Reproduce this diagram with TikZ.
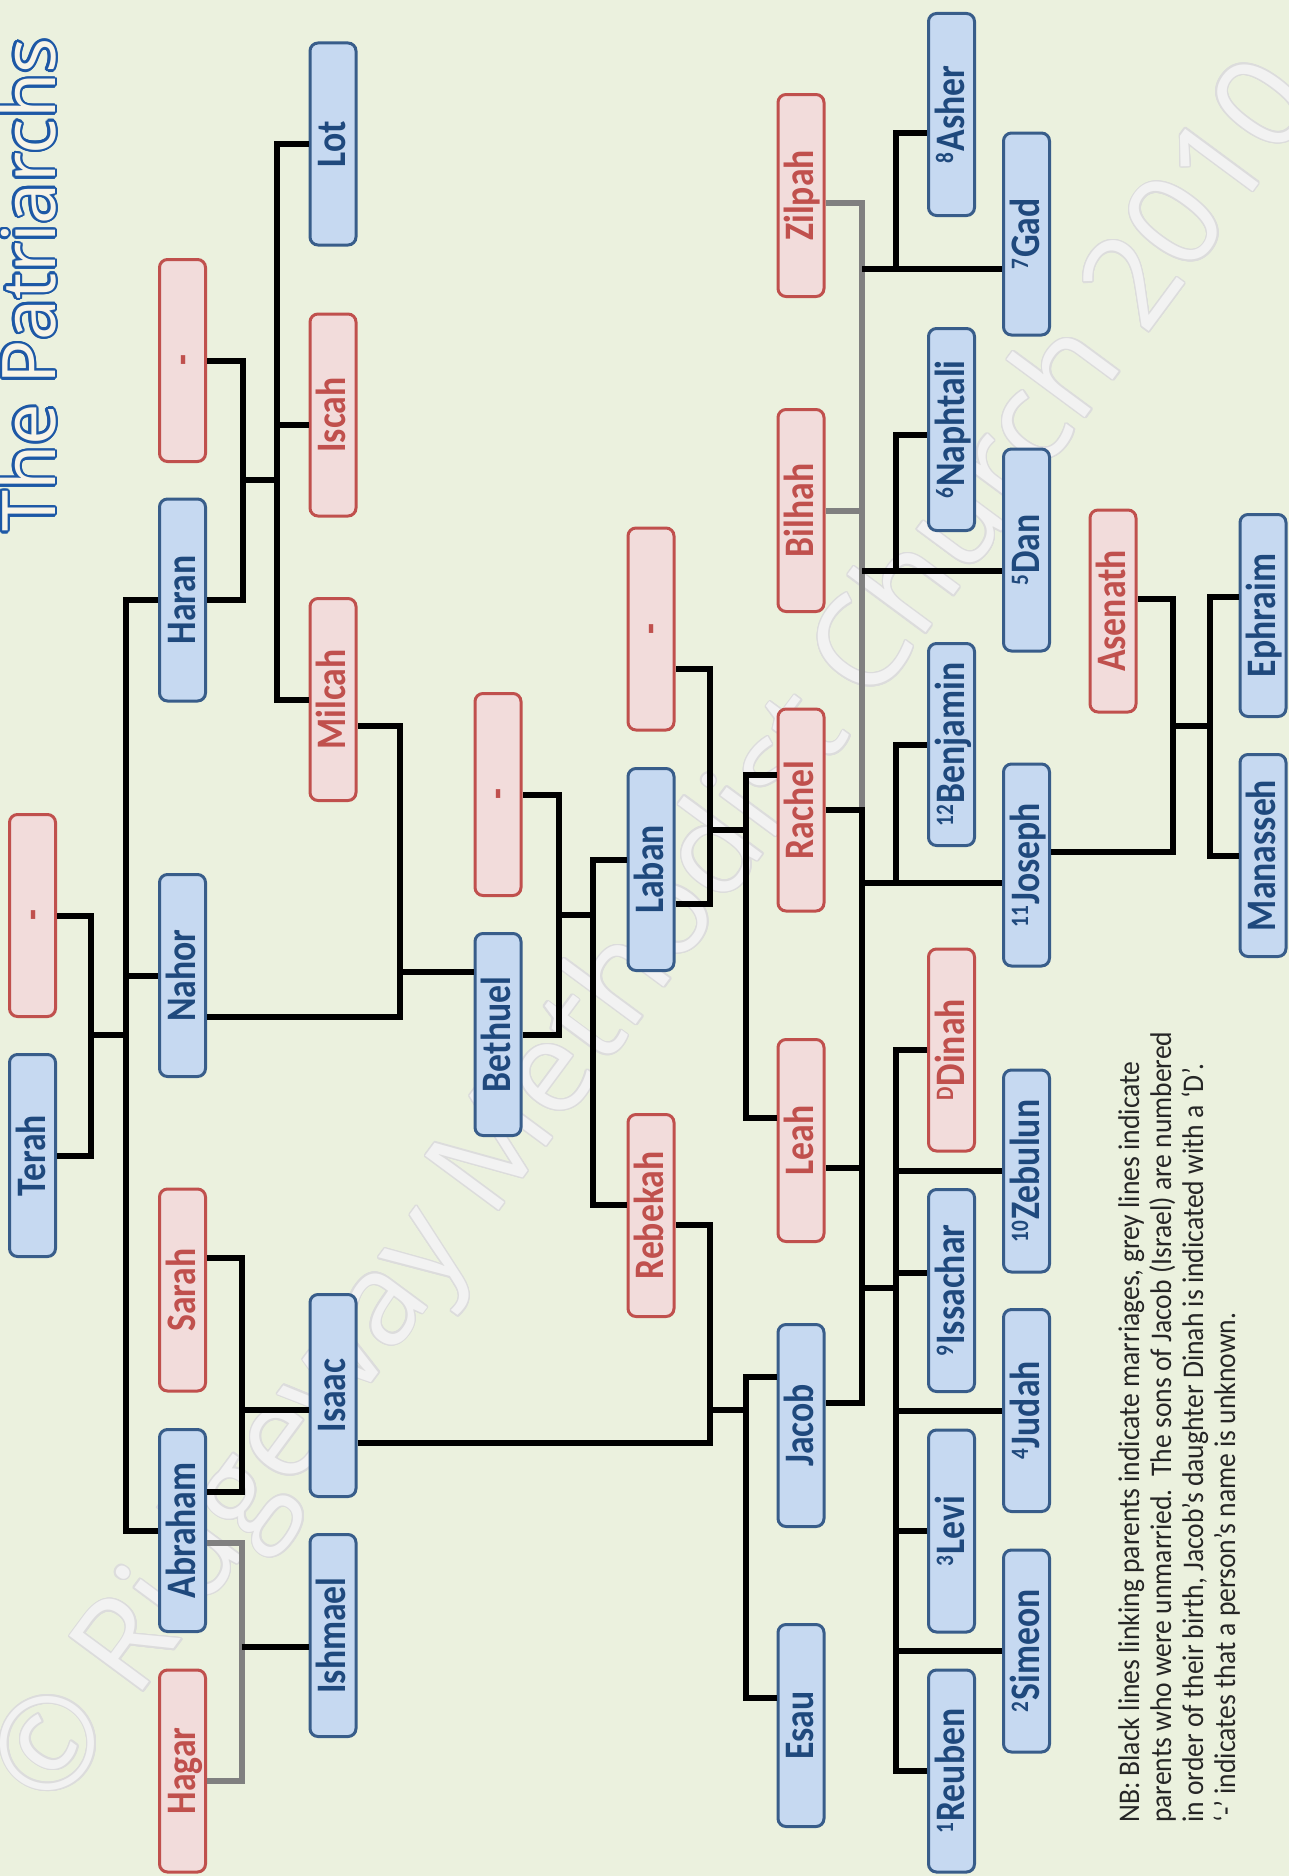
\documentclass[tikz,border=0pt]{standalone}
\usepackage{fontspec}
\setmainfont{Carlito}
\newfontfamily\namefont[FakeStretch=0.85]{Carlito}
\newfontfamily\notefont[FakeStretch=0.92]{Carlito}
\newfontfamily\headfont{Open Sans}
\usepackage{xcolor}
\usepackage{graphicx}
\usepackage{contour}
\usepackage{tikz}
\definecolor{paper}{HTML}{EBF1DE}
\definecolor{navy}{HTML}{1F497D}
\definecolor{blueedge}{HTML}{385D8A}
\definecolor{bluepale}{HTML}{C6D9F1}
\definecolor{brick}{HTML}{C0504D}
\definecolor{rosepale}{HTML}{F2DCDB}
\definecolor{grey}{HTML}{808080}
\definecolor{headblue}{HTML}{1D58A6}
\definecolor{headfill}{HTML}{F7F4E8}
\definecolor{markfill}{HTML}{F2F2F2}
\definecolor{markedge}{HTML}{DCDCDC}
\newcommand{\who}[1]{\rotatebox{90}{\rule[-10pt]{0pt}{45pt}#1}}
\newcommand{\birth}[1]{\raisebox{11pt}{\fontsize{25}{25}\selectfont#1}\kern1pt}
\tikzset{
  person/.style={rounded corners=8pt,line width=3pt,minimum width=46pt,minimum height=202pt,inner sep=0pt,font=\namefont\bfseries\fontsize{42}{42}\selectfont},
  male/.style={person,draw=blueedge,fill=bluepale,text=navy},
  female/.style={person,draw=brick,fill=rosepale,text=brick},
  wed/.style={line width=6pt,black},
  unwed/.style={line width=6pt,grey}
}

\begin{document}
\begin{tikzpicture}[x=1pt,y=-1pt]
  \fill[paper] (0,0) rectangle (1289,1876);
  \useasboundingbox (0,0) rectangle (1289,1876);
  \node[rotate=53.5,text=markfill,font=\headfont\fontsize{128}{128}\selectfont] (mark) at (660,938)
    {\contourlength{1.4pt}\contour{markedge}{© Ridgeway Methodist Church 2010}};
  \node[rotate=90,anchor=base west,inner sep=0pt,text=headfill,font=\headfont\fontsize{74}{74}\selectfont] (title) at (55,532)
    {\contourlength{2.6pt}\contour{headblue}{The Patriarchs}};

  \node[male]   (terah)    at (32.5,1155.5) {\who{Terah}};
  \node[female] (terahw)   at (32.5,915.5)  {\who{-}};
  \node[female] (haranw)   at (182.5,360.5) {\who{-}};
  \node[male]   (haran)    at (182.5,600)   {\who{Haran}};
  \node[male]   (nahor)    at (182.5,975.5) {\who{Nahor}};
  \node[female] (sarah)    at (182.5,1290)  {\who{Sarah}};
  \node[male]   (abraham)  at (182.5,1530.5){\who{Abraham}};
  \node[female] (hagar)    at (182.5,1771)  {\who{Hagar}};
  \node[male]   (lot)      at (333,144)     {\who{Lot}};
  \node[female] (iscah)    at (333,415)     {\who{Iscah}};
  \node[female] (milcah)   at (333,699.5)   {\who{Milcah}};
  \node[male]   (isaac)    at (333,1395.5)  {\who{Isaac}};
  \node[male]   (ishmael)  at (333,1635.5)  {\who{Ishmael}};
  \node[female] (bethw)    at (498,794.5)   {\who{-}};
  \node[male]   (bethuel)  at (498,1034.5)  {\who{Bethuel}};
  \node[female] (labanw)   at (651,629)     {\who{-}};
  \node[male]   (laban)    at (651,869.5)   {\who{Laban}};
  \node[female] (rebekah)  at (651,1215.5)  {\who{Rebekah}};
  \node[female] (zilpah)   at (801,195.5)   {\who{Zilpah}};
  \node[female] (bilhah)   at (801,510.5)   {\who{Bilhah}};
  \node[female] (rachel)   at (801,810)     {\who{Rachel}};
  \node[female] (leah)     at (801,1140.5)  {\who{Leah}};
  \node[male]   (jacob)    at (801,1425.5)  {\who{Jacob}};
  \node[male]   (esau)     at (801,1725.5)  {\who{Esau}};
  \node[male]   (asher)    at (951.5,114.5) {\who{\birth{8}Asher}};
  \node[male]   (naphtali) at (951.5,429.5) {\who{\birth{6}Naphtali}};
  \node[male]   (benjamin) at (951.5,744.5) {\who{\birth{12}Benjamin}};
  \node[female] (dinah)    at (951.5,1050)  {\who{\birth{D}Dinah}};
  \node[male]   (issachar) at (951.5,1290.5){\who{\birth{9}Issachar}};
  \node[male]   (levi)     at (951.5,1531)  {\who{\birth{3}Levi}};
  \node[male]   (reuben)   at (951.5,1771)  {\who{\birth{1}Reuben}};
  \node[male]   (gad)      at (1026.5,234)  {\who{\birth{7}Gad}};
  \node[male]   (dan)      at (1026.5,550)  {\who{\birth{5}Dan}};
  \node[male]   (joseph)   at (1026.5,865)  {\who{\birth{11}Joseph}};
  \node[male]   (zebulun)  at (1026.5,1171) {\who{\birth{10}Zebulun}};
  \node[male]   (judah)    at (1026.5,1410.5){\who{\birth{4}Judah}};
  \node[male]   (simeon)   at (1026.5,1651) {\who{\birth{2}Simeon}};
  \node[female] (asenath)  at (1113,611)    {\who{Asenath}};
  \node[male]   (ephraim)  at (1263,615.5)  {\who{Ephraim}};
  \node[male]   (manasseh) at (1263,855.5)  {\who{Manasseh}};

  \node[rotate=90,anchor=north west,inner sep=0pt,align=left,text=black!85,font=\notefont\fontsize{30}{32}\selectfont] (note) at (1118,1823)
    {NB: Black lines linking parents indicate marriages, grey lines indicate\\
     parents who were unmarried.\ \ The sons of Jacob (Israel) are numbered\\
     in order of their birth, Jacob’s daughter Dinah is indicated with a ‘D’.\\
     ‘-’ indicates that a person’s name is unknown.};

  \coordinate (jTerah) at (91,1035);
  \coordinate (kTerah) at (125.5,1035);
  \draw[wed] (terah.east) -| (jTerah) |- (terahw.east);
  \draw[wed] (jTerah) -- (kTerah);
  \foreach \kid in {haran,nahor,abraham} \draw[wed] (\kid.west) -| (kTerah);

  \coordinate (jHaran) at (242.5,480);
  \coordinate (kHaran) at (276.5,480);
  \draw[wed] (haran.east) -| (jHaran) |- (haranw.east);
  \draw[wed] (jHaran) -- (kHaran);
  \draw[wed] (lot.west) -| (kHaran);
  \draw[wed] ([yshift=-10pt]iscah.west) -| (kHaran);
  \draw[wed] (milcah.west) -| (kHaran);

  \coordinate (jNahor) at (400,972);
  \draw[wed] ([yshift=-41.5pt]nahor.east) -| (jNahor) |- ([yshift=-26.5pt]milcah.east);
  \draw[wed] (jNahor) -- (bethuel.west |- jNahor);

  \coordinate (jBethuel) at (559,915);
  \coordinate (kBethuel) at (593,915);
  \draw[wed] (bethuel.east) -| (jBethuel) |- (bethw.east);
  \draw[wed] (jBethuel) -- (kBethuel);
  \draw[wed] ([yshift=9.5pt]laban.west) -| (kBethuel);
  \draw[wed] ([yshift=10.5pt]rebekah.west) -| (kBethuel);

  \coordinate (jLaban) at (710,830);
  \coordinate (kLaban) at (745.5,830);
  \draw[wed] ([yshift=-34.5pt]laban.east) -| (jLaban) |- ([yshift=-40pt]labanw.east);
  \draw[wed] (jLaban) -- (kLaban);
  \draw[wed] ([yshift=35pt]rachel.west) -| (kLaban);
  \draw[wed] ([yshift=22.5pt]leah.west) -| (kLaban);

  \coordinate (jSarah) at (241.5,1410);
  \draw[wed] ([yshift=38.5pt]abraham.east) -| (jSarah) |- ([yshift=32pt]sarah.east);
  \draw[wed] (jSarah) -- (isaac.west |- jSarah);

  \coordinate (jHagar) at (241.5,1647);
  \draw[unwed] ([yshift=-12.5pt]abraham.east) -| (jHagar) |- ([yshift=-10pt]hagar.east);
  \draw[wed] (jHagar) -- (ishmael.west |- jHagar);

  \coordinate (jIsaac) at (710,1410);
  \coordinate (kIsaac) at (745.5,1410);
  \draw[wed] ([yshift=-47.5pt]isaac.east) -| (jIsaac) |- ([yshift=-9.5pt]rebekah.east);
  \draw[wed] (jIsaac) -- (kIsaac);
  \draw[wed] ([yshift=48.5pt]jacob.west) -| (kIsaac);
  \draw[wed] ([yshift=27.5pt]esau.west) -| (kIsaac);

  \coordinate (jZilpah) at (862,269);
  \coordinate (kZilpah) at (896,269);
  \coordinate (jBilhah) at (862,571);
  \coordinate (kBilhah) at (896,571);
  \coordinate (jRachel) at (862,883);
  \coordinate (kRachel) at (896,883);
  \coordinate (jLeah) at (862,1288);
  \coordinate (kLeah) at (896,1288);
  \draw[unwed] ([yshift=-7.5pt]zilpah.east) -| (rachel.east -| jRachel);
  \draw[unwed] (bilhah.east) -| (jBilhah);
  \draw[wed] (rachel.east) -| (jLeah) |- ([yshift=22.5pt]jacob.east);
  \draw[wed] ([yshift=-27.5pt]leah.east) -| (jLeah);
  \draw[wed] (jZilpah) -- (gad.west |- jZilpah);
  \draw[wed] ([yshift=-18pt]asher.west) -| (kZilpah);
  \draw[wed] (jBilhah) -- (dan.west |- jBilhah);
  \draw[wed] ([yshift=-5.5pt]naphtali.west) -| (kBilhah);
  \draw[wed] (jRachel) -- (joseph.west |- jRachel);
  \draw[wed] (benjamin.west) -| (kRachel);
  \draw[wed] (jLeah) -- (kLeah);
  \foreach \kid in {dinah,zebulun,levi,judah,simeon,reuben} \draw[wed] (\kid.west) -| (kLeah);
  \draw[wed] ([yshift=17.5pt]issachar.west) -| (kLeah);

  \coordinate (jJoseph) at (1173,726);
  \coordinate (kJoseph) at (1210,726);
  \draw[wed] ([yshift=13pt]joseph.east) -| (jJoseph) |- ([yshift=12pt]asenath.east);
  \draw[wed] (jJoseph) -- (kJoseph);
  \draw[wed] ([yshift=18.5pt]ephraim.west) -| (kJoseph);
  \draw[wed] (manasseh.west) -| (kJoseph);
\end{tikzpicture}
\end{document}
